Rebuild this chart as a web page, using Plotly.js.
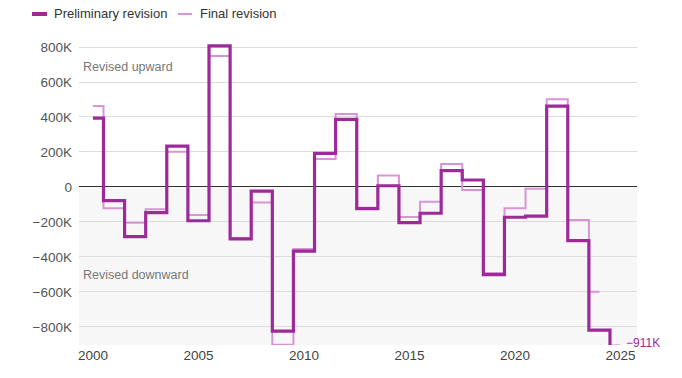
<!DOCTYPE html>
<html>
<head>
<meta charset="utf-8">
<script src="https://cdn.plot.ly/plotly-3.0.1.min.js"></script>
<style>
html,body{margin:0;padding:0;background:#fff;}
#chart{width:682px;height:378px;}
</style>
</head>
<body>
<div id="chart"></div>
<script>
var years = [2000,2001,2002,2003,2004,2005,2006,2007,2008,2009,2010,2011,2012,2013,2014,2015,2016,2017,2018,2019,2020,2021,2022,2023,2024,2025];
var preliminary = [393000,-78000,-284000,-147000,234000,-193000,806000,-297000,-24000,-824000,-366000,192000,386000,-124000,7000,-204000,-150000,93000,40000,-501000,-173000,-166000,462000,-306000,-818000,-911000];
var finalRev = [463000,-122000,-204000,-127000,202000,-160000,749000,-293000,-89000,-902000,-355000,160000,417000,-119000,65000,-172000,-84000,131000,-17000,-491000,-122000,-10000,502000,-189000,-598000,null];
var yTickVals = [-800000,-600000,-400000,-200000,0,200000,400000,600000,800000];
var yTickText = ["\u2212800K","\u2212600K","\u2212400K","\u2212200K","0","200K","400K","600K","800K"];
var xTickVals = [2000,2005,2010,2015,2020,2025];
var seriesNames = ["Preliminary revision","Final revision"];
var lastLabel = "\u2212911K";

var darkC = "#9e2a9a", lightC = "#d795d5";
var fontFam = "'Liberation Sans', Arial, sans-serif";

var traces = [
  {x: years, y: finalRev, name: seriesNames[1], type: "scatter", mode: "lines",
   line: {shape: "hvh", color: lightC, width: 2}, connectgaps: false, showlegend: false, hoverinfo: "skip"},
  {x: years, y: preliminary, name: seriesNames[0], type: "scatter", mode: "lines",
   line: {shape: "hvh", color: darkC, width: 3.2}, showlegend: false, hoverinfo: "skip"}
];

var W = 558; // plot width in px for legend placement
function px2paper(px){ return (px - 79) / W; }
var yMin = -903000;

var layout = {
  width: 682, height: 378,
  margin: {l: 79, r: 45, t: 40, b: 33},
  paper_bgcolor: "#ffffff", plot_bgcolor: "rgba(0,0,0,0)",
  font: {family: fontFam, size: 13, color: "#555"},
  xaxis: {range: [1999.34, 2025.78], tickvals: xTickVals, ticktext: xTickVals.map(String),
          showgrid: false, zeroline: false, showline: false, ticks: "",
          tickfont: {size: 13.5, color: "#444"}, fixedrange: true},
  yaxis: {range: [yMin, 840000], tickvals: yTickVals, ticktext: yTickText,
          showgrid: true, gridcolor: "#dcdcdc", gridwidth: 1,
          zeroline: true, zerolinecolor: "#333", zerolinewidth: 1,
          showline: false, ticks: "", ticklabelstandoff: 6,
          tickfont: {size: 13.5, color: "#555"}, fixedrange: true},
  shapes: [
    {type: "rect", xref: "paper", yref: "y", x0: 0, x1: 1, y0: yMin, y1: 0,
     fillcolor: "#f7f7f7", line: {width: 0}, layer: "below"},
    {type: "line", xref: "paper", yref: "paper", x0: px2paper(32), x1: px2paper(47),
     y0: 1 + 26/305, y1: 1 + 26/305, line: {color: darkC, width: 4}},
    {type: "line", xref: "paper", yref: "paper", x0: px2paper(178), x1: px2paper(192),
     y0: 1 + 26/305, y1: 1 + 26/305, line: {color: lightC, width: 2}}
  ],
  annotations: [
    {xref: "paper", yref: "paper", x: px2paper(52), y: 1 + 26/305, xanchor: "left", yanchor: "middle",
     text: seriesNames[0], showarrow: false, font: {size: 13, color: "#333"}},
    {xref: "paper", yref: "paper", x: px2paper(198), y: 1 + 26/305, xanchor: "left", yanchor: "middle",
     text: seriesNames[1], showarrow: false, font: {size: 13, color: "#333"}},
    {xref: "paper", yref: "y", x: px2paper(81), y: 685000, xanchor: "left", yanchor: "middle",
     text: "Revised upward", showarrow: false, font: {size: 12.5, color: "#777"}},
    {xref: "paper", yref: "y", x: px2paper(81), y: -504000, xanchor: "left", yanchor: "middle",
     text: "Revised downward", showarrow: false, font: {size: 12.5, color: "#777"}},
    {xref: "x", yref: "y", x: years[years.length-1], y: Math.max(preliminary[preliminary.length-1], yMin + 3000),
     xanchor: "left", yanchor: "middle", xshift: 3, yshift: 1,
     text: lastLabel, showarrow: false, font: {size: 12, color: darkC}}
  ]
};

Plotly.newPlot("chart", traces, layout, {displayModeBar: false, staticPlot: true});
</script>
</body>
</html>
